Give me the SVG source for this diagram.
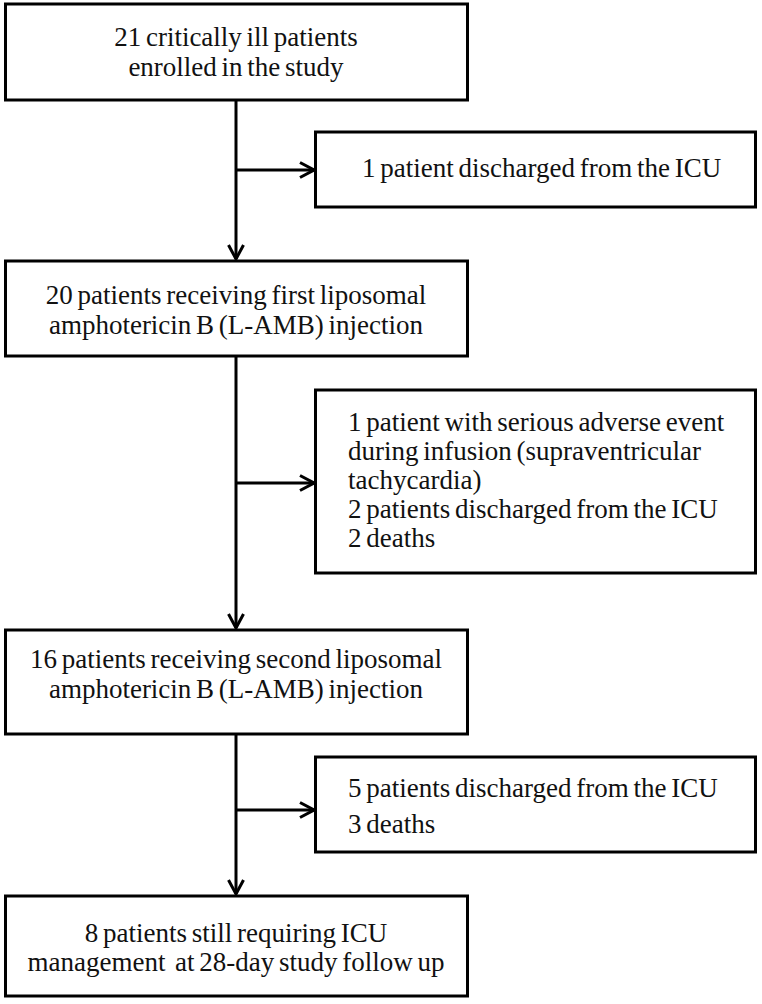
<svg xmlns="http://www.w3.org/2000/svg" width="762" height="1004" viewBox="0 0 762 1004">
<style>
.box{fill:#fff;stroke:#000;stroke-width:3}
.t{font-family:"Liberation Serif","Times New Roman",serif;font-size:27px;fill:#111;word-spacing:-2px}
.c{text-anchor:middle}
.ln{fill:none;stroke:#000;stroke-width:3}
</style>
<defs>
<marker id="ah" viewBox="0 0 18 18" refX="16" refY="9" markerWidth="18" markerHeight="18" markerUnits="userSpaceOnUse" orient="auto">
<path d="M2,1.5 L16,9 L2,16.5" fill="none" stroke="#000" stroke-width="3"/>
</marker>
</defs>
<rect width="762" height="1004" fill="#fff"/>
<g id="connectors">
<line class="ln" x1="236" y1="100" x2="236" y2="259" marker-end="url(#ah)"/>
<line class="ln" x1="236" y1="170" x2="314" y2="170" marker-end="url(#ah)"/>
<line class="ln" x1="236" y1="356" x2="236" y2="628" marker-end="url(#ah)"/>
<line class="ln" x1="236" y1="483" x2="314" y2="483" marker-end="url(#ah)"/>
<line class="ln" x1="236" y1="735" x2="236" y2="894" marker-end="url(#ah)"/>
<line class="ln" x1="236" y1="810" x2="314" y2="810" marker-end="url(#ah)"/>
</g>
<g id="n1">
<rect class="box" x="5.5" y="4" width="462" height="96"/>
<text class="t c" x="236" y="46">21 critically ill patients</text>
<text class="t c" x="236" y="76">enrolled in the study</text>
</g>
<g id="n2">
<rect class="box" x="315.5" y="132" width="440" height="75"/>
<text class="t" x="362" y="177">1 patient discharged from the ICU</text>
</g>
<g id="n3">
<rect class="box" x="5.5" y="261" width="462" height="95"/>
<text class="t c" x="236" y="304">20 patients receiving first liposomal</text>
<text class="t c" x="236" y="334">amphotericin B (L-AMB) injection</text>
</g>
<g id="n4">
<rect class="box" x="315.5" y="390" width="440" height="183"/>
<text class="t" x="348" y="431">1 patient with serious adverse event</text>
<text class="t" x="348" y="460">during infusion (supraventricular</text>
<text class="t" x="348" y="489">tachycardia)</text>
<text class="t" x="348" y="518">2 patients discharged from the ICU</text>
<text class="t" x="348" y="547">2 deaths</text>
</g>
<g id="n5">
<rect class="box" x="5.5" y="630" width="462" height="104"/>
<text class="t c" x="236" y="668">16 patients receiving second liposomal</text>
<text class="t c" x="236" y="698">amphotericin B (L-AMB) injection</text>
</g>
<g id="n6">
<rect class="box" x="315.5" y="757" width="440" height="95"/>
<text class="t" x="348" y="797">5 patients discharged from the ICU</text>
<text class="t" x="348" y="833">3 deaths</text>
</g>
<g id="n7">
<rect class="box" x="5.5" y="896" width="462" height="100"/>
<text class="t c" x="236" y="942">8 patients still requiring ICU</text>
<text class="t c" x="236" y="971">management&#160; at 28-day study follow up</text>
</g>
</svg>
